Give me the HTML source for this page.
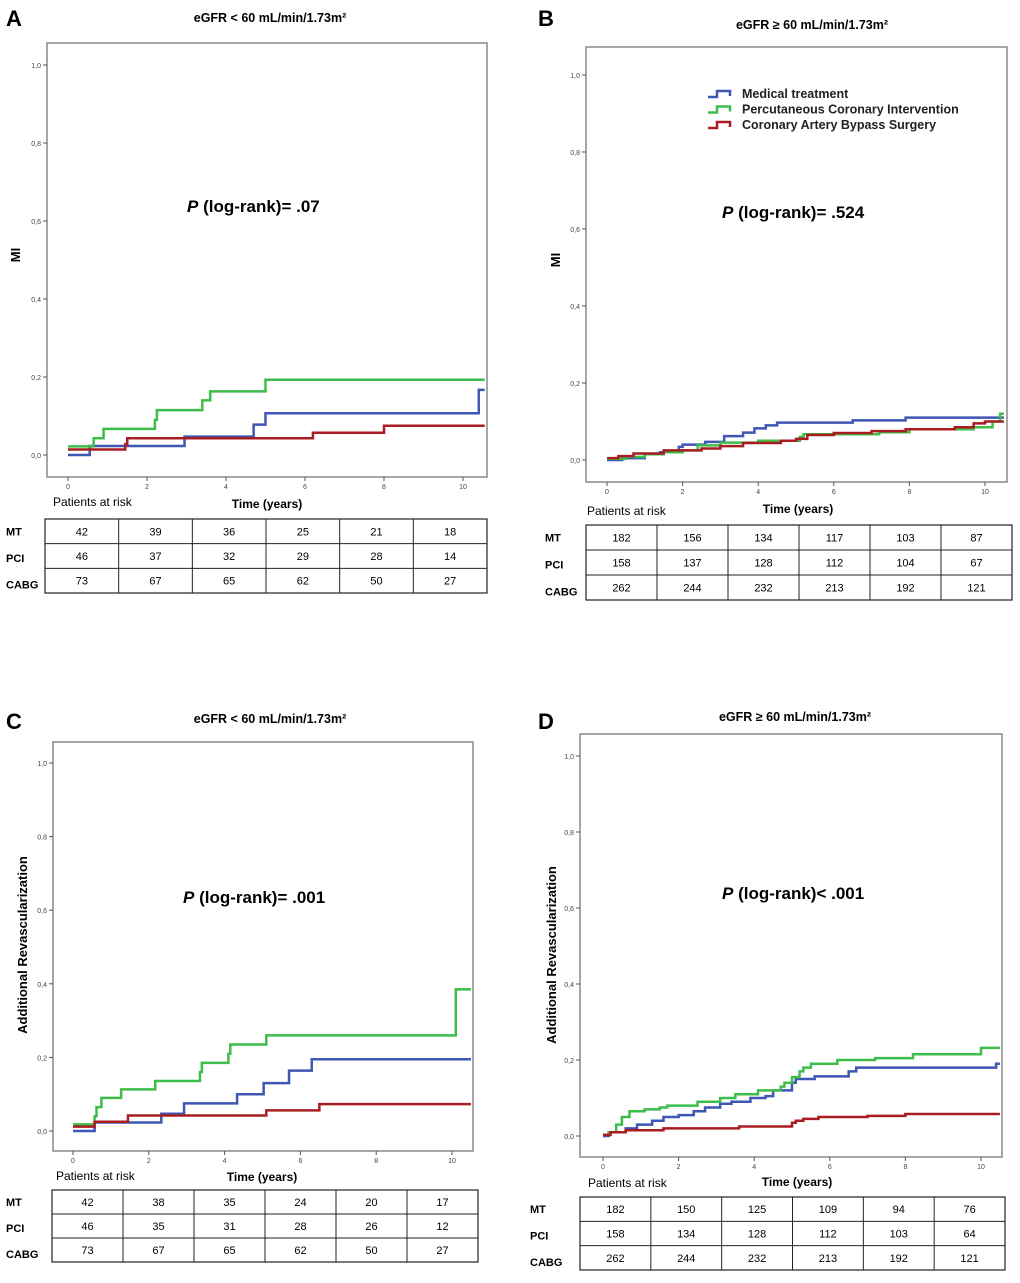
<!DOCTYPE html>
<html><head><meta charset="utf-8"><style>
body{margin:0;background:#fff;}
svg text{font-family:"Liberation Sans",Arial,sans-serif;}
</style></head><body>
<svg id="fig" width="1020" height="1278" viewBox="0 0 1020 1278" xmlns="http://www.w3.org/2000/svg"></svg>
<script>
// ---- data ----
const riskRows = ["MT","PCI","CABG"];
const riskA_MT = [42,39,36,25,21,18];
const riskA_PCI = [46,37,32,29,28,14];
const riskA_CABG = [73,67,65,62,50,27];
const riskB_MT = [182,156,134,117,103,87];
const riskB_PCI = [158,137,128,112,104,67];
const riskB_CABG = [262,244,232,213,192,121];
const riskC_MT = [42,38,35,24,20,17];
const riskC_PCI = [46,35,31,28,26,12];
const riskC_CABG = [73,67,65,62,50,27];
const riskD_MT = [182,150,125,109,94,76];
const riskD_PCI = [158,134,128,112,103,64];
const riskD_CABG = [262,244,232,213,192,121];
const xTicks = [0,2,4,6,8,10];
const yTicks = [0,0.2,0.4,0.6,0.8,1.0];
const yTickLabels = ["0,0","0,2","0,4","0,6","0,8","1,0"];

const A_MT_t=[0,0.55,2.95,4.7,5.0,10.4];
const A_MT_v=[0,0.023,0.047,0.078,0.107,0.167];
const A_PCI_t=[0,0.65,0.9,2.2,2.25,3.4,3.6,5.0];
const A_PCI_v=[0.022,0.043,0.067,0.09,0.115,0.14,0.163,0.193];
const A_CABG_t=[0,1.45,1.5,6.2,8.0];
const A_CABG_v=[0.014,0.028,0.043,0.057,0.075];

const B_MT_t=[0,0.4,1.0,1.4,1.9,2.0,2.6,3.1,3.6,3.9,4.2,4.5,6.5,7.9];
const B_MT_v=[0,0.005,0.015,0.02,0.034,0.04,0.047,0.062,0.071,0.082,0.09,0.097,0.103,0.11];
const B_PCI_t=[0,0.5,1.0,1.5,2.0,2.4,3.0,4.0,5.1,5.2,7.2,8.0,9.7,10.2,10.4];
const B_PCI_v=[0.003,0.008,0.015,0.02,0.025,0.038,0.045,0.05,0.06,0.067,0.072,0.08,0.085,0.1,0.12];
const B_CABG_t=[0,0.3,0.7,1.5,2.5,3.0,3.6,4.6,5.0,5.3,6.0,7.0,7.9,9.2,9.7,10.0];
const B_CABG_v=[0.005,0.01,0.017,0.025,0.03,0.036,0.044,0.05,0.055,0.065,0.07,0.075,0.08,0.085,0.095,0.1];

const C_MT_t=[0,0.57,2.33,2.93,4.33,5.03,5.7,6.3];
const C_MT_v=[0,0.023,0.047,0.075,0.10,0.13,0.164,0.195];
const C_PCI_t=[0,0.57,0.62,0.75,1.27,2.17,3.35,3.4,4.1,4.15,5.1,10.1];
const C_PCI_v=[0.018,0.04,0.065,0.09,0.113,0.136,0.16,0.185,0.21,0.235,0.26,0.385];
const C_CABG_t=[0,0.57,1.45,5.1,6.5];
const C_CABG_v=[0.012,0.025,0.042,0.056,0.073];

const D_MT_t=[0,0.15,0.6,0.9,1.3,1.6,2.0,2.4,2.7,3.1,3.4,3.9,4.3,4.5,5.0,5.1,5.6,6.5,6.7,10.4];
const D_MT_v=[0,0.01,0.02,0.03,0.04,0.05,0.055,0.065,0.075,0.085,0.09,0.1,0.105,0.12,0.14,0.15,0.157,0.17,0.18,0.19];
const D_PCI_t=[0,0.15,0.35,0.5,0.7,1.1,1.5,1.7,2.5,3.1,3.5,4.1,4.7,4.8,5.0,5.2,5.3,5.5,6.2,7.2,8.2,10.0];
const D_PCI_v=[0.003,0.01,0.03,0.05,0.065,0.07,0.075,0.08,0.09,0.1,0.11,0.12,0.13,0.14,0.155,0.17,0.18,0.19,0.2,0.205,0.215,0.232];
const D_CABG_t=[0,0.2,0.6,1.6,3.6,5.0,5.1,5.3,5.7,7.0,8.0];
const D_CABG_v=[0.003,0.01,0.015,0.02,0.025,0.035,0.04,0.045,0.05,0.053,0.058];

const colors={MT:"#3e56b4",PCI:"#3dbd4a",CABG:"#a91d22"};
const svg=document.getElementById('fig');
const NS="http://www.w3.org/2000/svg";
function mk(tag,attrs,parent){const e=document.createElementNS(NS,tag);for(const k in attrs)e.setAttribute(k,attrs[k]);(parent||svg).appendChild(e);return e;}
function txt(s,attrs,parent){const e=mk('text',attrs,parent);e.textContent=s;return e;}

const panels=[
 {id:'a',letter:'A',lx:6,ly:26,title:'eGFR < 60 mL/min/1.73m²',tx:270,ty:22,left:47,right:487,top:43,bottom:477,x0:68,x10:463,y0:455,y1:65,end:10.55,ytitle:'MI',ytx:20,yty:255,
  p:['= .07'],px:187,py:212,prx:53,pry:506,timex:267,timey:508,tl:45,tr:487,tt:519,tb:593,labx:6,
  series:{MT:[A_MT_t,A_MT_v],PCI:[A_PCI_t,A_PCI_v],CABG:[A_CABG_t,A_CABG_v]},risk:[riskA_MT,riskA_PCI,riskA_CABG]},
 {id:'b',letter:'B',lx:538,ly:26,title:'eGFR ≥ 60 mL/min/1.73m²',tx:812,ty:29,left:586,right:1007,top:47,bottom:482,x0:607,x10:985,y0:460,y1:75,end:10.5,ytitle:'MI',ytx:560,yty:260,
  p:['= .524'],px:722,py:218,prx:587,pry:515,timex:798,timey:513,tl:586,tr:1012,tt:525,tb:600,labx:545,legend:true,
  series:{MT:[B_MT_t,B_MT_v],PCI:[B_PCI_t,B_PCI_v],CABG:[B_CABG_t,B_CABG_v]},risk:[riskB_MT,riskB_PCI,riskB_CABG]},
 {id:'c',letter:'C',lx:6,ly:729,title:'eGFR < 60 mL/min/1.73m²',tx:270,ty:723,left:53,right:473,top:742,bottom:1151,x0:73,x10:452,y0:1131,y1:763,end:10.5,ytitle:'Additional Revascularization',ytx:27,yty:945,
  p:['= .001'],px:183,py:903,prx:56,pry:1180,timex:262,timey:1181,tl:52,tr:478,tt:1190,tb:1262,labx:6,
  series:{MT:[C_MT_t,C_MT_v],PCI:[C_PCI_t,C_PCI_v],CABG:[C_CABG_t,C_CABG_v]},risk:[riskC_MT,riskC_PCI,riskC_CABG]},
 {id:'d',letter:'D',lx:538,ly:729,title:'eGFR ≥ 60 mL/min/1.73m²',tx:795,ty:721,left:580,right:1002,top:734,bottom:1157,x0:603,x10:981,y0:1136,y1:756,end:10.5,ytitle:'Additional Revascularization',ytx:556,yty:955,
  p:['< .001'],px:722,py:899,prx:588,pry:1187,timex:797,timey:1186,tl:580,tr:1005,tt:1197,tb:1270,labx:530,
  series:{MT:[D_MT_t,D_MT_v],PCI:[D_PCI_t,D_PCI_v],CABG:[D_CABG_t,D_CABG_v]},risk:[riskD_MT,riskD_PCI,riskD_CABG]}
];

panels.forEach(P=>{
  const g=mk('g',{});
  
  
  const X=t=>P.x0+(P.x10-P.x0)*t/10;
  const Y=v=>P.y0-(P.y0-P.y1)*v;
  const L=txt(P.letter,{x:P.lx,y:P.ly,'font-size':22,'font-weight':'bold'},g);
  
  const T=txt(P.title,{x:P.tx,y:P.ty,'font-size':12.5,'font-weight':'bold','text-anchor':'middle'},g);
  
  const F=mk('rect',{x:P.left,y:P.top,width:P.right-P.left,height:P.bottom-P.top,fill:'none',stroke:'#888','stroke-width':1.5},g);
  
  yTicks.forEach((v,i)=>{
    mk('line',{x1:P.left-4,x2:P.left,y1:Y(v),y2:Y(v),stroke:'#555'},g);
    const t=txt(yTickLabels[i],{x:P.left-6,y:Y(v)+3,'font-size':7,fill:'#444','text-anchor':'end'},g);
    
  });
  xTicks.forEach(v=>{
    mk('line',{x1:X(v),x2:X(v),y1:P.bottom,y2:P.bottom+4,stroke:'#555'},g);
    const t=txt(String(v),{x:X(v),y:P.bottom+12,'font-size':7,fill:'#444','text-anchor':'middle'},g);
    
  });
  const yt=txt(P.ytitle,{x:0,y:0,'font-size':13,'font-weight':'bold','text-anchor':'middle',transform:`translate(${P.ytx},${P.yty}) rotate(-90)`},g);
  
  const pt=mk('text',{x:P.px,y:P.py,'font-size':17},g);
  
  const ti=document.createElementNS(NS,'tspan');ti.setAttribute('font-weight','bold');ti.setAttribute('font-style','italic');ti.textContent='P';pt.appendChild(ti);
  const tr=document.createElementNS(NS,'tspan');tr.setAttribute('font-weight','bold');tr.textContent=' (log-rank)'+P.p[0];pt.appendChild(tr);
  const pr=txt('Patients at risk',{x:P.prx,y:P.pry,'font-size':12},g);
  
  const tm=txt('Time (years)',{x:P.timex,y:P.timey,'font-size':12,'font-weight':'bold','text-anchor':'middle'},g);
  
  ['MT','PCI','CABG'].forEach(k=>{
    const [ts,vs]=P.series[k];
    let d=`M${X(ts[0])},${Y(vs[0])}`;
    for(let i=1;i<ts.length;i++){d+=` H${X(ts[i])} V${Y(vs[i])}`;}
    d+=` H${X(P.end)}`;
    const path=mk('path',{d:d,fill:'none',stroke:colors[k],'stroke-width':2.5},g);
    
    
  });
  const rh=(P.tb-P.tt)/3, cw=(P.tr-P.tl)/6;
  const tb=mk('rect',{x:P.tl,y:P.tt,width:P.tr-P.tl,height:P.tb-P.tt,fill:'none',stroke:'#222','stroke-width':1.2},g);
  
  for(let i=1;i<6;i++)mk('line',{x1:P.tl+cw*i,x2:P.tl+cw*i,y1:P.tt,y2:P.tb,stroke:'#222'},g);
  for(let j=1;j<3;j++)mk('line',{x1:P.tl,x2:P.tr,y1:P.tt+rh*j,y2:P.tt+rh*j,stroke:'#222'},g);
  riskRows.forEach((r,j)=>{
    const lb=txt(r,{x:P.labx,y:P.tt+rh*j+rh/2+4+(j*2),'font-size':11,'font-weight':'bold'},g);
    
    P.risk[j].forEach((n,i)=>{
      const c=txt(String(n),{x:P.tl+cw*i+cw/2,y:P.tt+rh*j+rh/2+4,'font-size':11,'text-anchor':'middle'},g);
      
    });
  });
  if(P.legend){
    const lg=mk('g',{},g);
    
    const names=['Medical treatment','Percutaneous Coronary Intervention','Coronary Artery Bypass Surgery'];
    ['MT','PCI','CABG'].forEach((k,i)=>{
      const y=94+i*15.5;
      mk('path',{d:`M708,${y+3} H717 V${y-3} H730 V${y+2}`,fill:'none',stroke:colors[k],'stroke-width':2.5},lg);
      const e=txt(names[i],{x:742,y:y+4,'font-size':12.5,'font-weight':'bold',fill:'#222'},lg);
      
    });
  }
});
</script>
</body></html>
